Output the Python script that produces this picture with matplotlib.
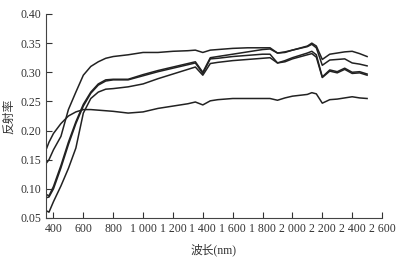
import matplotlib.pyplot as plt
import numpy as np

plt.rcParams['font.family'] = ['Liberation Serif', 'Noto Sans CJK SC']

# wavelength grid (nm) shared by all curves
wavelength = [355, 370, 400, 450, 500, 550, 600, 650, 700, 750, 800, 900, 1000,
              1100, 1200, 1300, 1350, 1400, 1450, 1500, 1600, 1700, 1800, 1850,
              1900, 1950, 2000, 2100, 2130, 2160, 2200, 2250, 2300, 2350, 2400,
              2450, 2500]

# reflectance of the five spectra
refl_top = [0.145, 0.150, 0.167, 0.190, 0.236, 0.266, 0.295, 0.310, 0.318, 0.324,
            0.327, 0.330, 0.334, 0.334, 0.336, 0.337, 0.338, 0.334, 0.338, 0.339,
            0.341, 0.342, 0.342, 0.342, 0.333, 0.335, 0.338, 0.345, 0.350, 0.345,
            0.322, 0.331, 0.333, 0.335, 0.336, 0.332, 0.327]
refl_m1 = [0.090, 0.088, 0.104, 0.140, 0.180, 0.215, 0.245, 0.266, 0.280, 0.287,
           0.288, 0.288, 0.296, 0.303, 0.309, 0.315, 0.318, 0.300, 0.325, 0.327,
           0.331, 0.335, 0.339, 0.340, 0.333, 0.334, 0.338, 0.344, 0.348, 0.342,
           0.312, 0.321, 0.322, 0.323, 0.316, 0.314, 0.311]
refl_m2 = [0.085, 0.086, 0.100, 0.136, 0.176, 0.212, 0.242, 0.264, 0.278, 0.285,
           0.287, 0.287, 0.294, 0.301, 0.307, 0.313, 0.316, 0.298, 0.323, 0.324,
           0.327, 0.329, 0.331, 0.331, 0.316, 0.320, 0.325, 0.333, 0.336, 0.330,
           0.292, 0.304, 0.301, 0.307, 0.300, 0.301, 0.297]
refl_m3 = [0.062, 0.060, 0.078, 0.105, 0.135, 0.170, 0.230, 0.255, 0.266, 0.271,
           0.272, 0.275, 0.280, 0.289, 0.297, 0.305, 0.309, 0.295, 0.315, 0.317,
           0.320, 0.322, 0.324, 0.325, 0.316, 0.318, 0.323, 0.330, 0.332, 0.326,
           0.291, 0.302, 0.299, 0.305, 0.298, 0.299, 0.295]
refl_flat = [0.170, 0.180, 0.195, 0.212, 0.225, 0.232, 0.236, 0.236, 0.235, 0.234,
             0.233, 0.230, 0.232, 0.238, 0.242, 0.246, 0.249, 0.244, 0.251, 0.253,
             0.255, 0.255, 0.255, 0.255, 0.252, 0.256, 0.259, 0.262, 0.265, 0.263,
             0.247, 0.253, 0.254, 0.256, 0.258, 0.256, 0.255]

x_ticks = np.arange(400, 2601, 200)
x_tick_labels = ["{:,}".format(v).replace(",", " ") for v in x_ticks]
y_ticks = np.arange(0.05, 0.401, 0.05)

fig = plt.figure(figsize=(4.01, 2.61), dpi=100)
ax = fig.add_axes([0.1147, 0.1648, 0.838, 0.7816])

for refl in [refl_top, refl_m1, refl_m2, refl_m3, refl_flat]:
    ax.plot(wavelength, refl, color="#222222", linewidth=1.1)

ax.set_xlim(350, 2600)
ax.set_ylim(0.05, 0.40)
ax.set_xticks(x_ticks)
ax.set_xticklabels(x_tick_labels)
ax.set_yticks(y_ticks)
ax.set_yticklabels(["%.2f" % v for v in y_ticks])
ax.tick_params(direction="in", length=4, width=0.8, labelsize=8.5, colors="#333333")
ax.spines["top"].set_visible(False)
ax.spines["right"].set_visible(False)
for side in ["left", "bottom"]:
    ax.spines[side].set_color("#444444")

ax.set_xlabel("波长(nm)", fontsize=8.5, color="#333333", labelpad=6)
ax.set_ylabel("反射率", fontsize=8.5, color="#333333", labelpad=4)

fig.savefig("out.png", dpi=100)
